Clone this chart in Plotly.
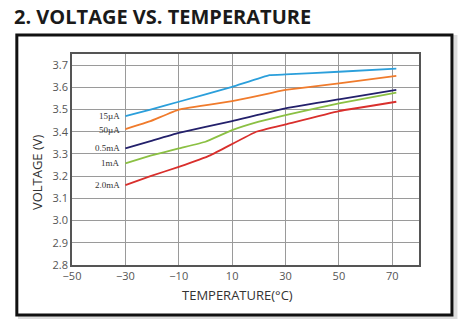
import plotly.graph_objects as go

temps = [-30, -20.6, -10, 10, 24, 30, 50, 71.5]
v_15uA = [3.47, 3.50, 3.535, 3.602, 3.655, 3.658, 3.67, 3.684]
temps_50 = [-30, -20.6, -10, 10, 24, 30, 50, 71.5]
v_50uA = [3.412, 3.448, 3.50, 3.538, 3.573, 3.588, 3.618, 3.652]
temps_05 = [-30, -20.6, -10, 10, 30, 50, 71.5]
v_05mA = [3.325, 3.358, 3.395, 3.448, 3.505, 3.546, 3.588]
temps_1 = [-30, -20.6, -10, 0, 10, 20, 30, 50, 71.5]
v_1mA = [3.258, 3.292, 3.325, 3.355, 3.407, 3.445, 3.475, 3.528, 3.576]
temps_2 = [-30, -20.6, -10, 2, 19, 30, 50, 71.5]
v_2mA = [3.16, 3.20, 3.242, 3.295, 3.40, 3.433, 3.493, 3.535]

series = [
    ("15µA", temps, v_15uA, "#2b9fdb"),
    ("50µA", temps_50, v_50uA, "#f07b2c"),
    ("0.5mA", temps_05, v_05mA, "#23206b"),
    ("1mA", temps_1, v_1mA, "#8bc043"),
    ("2.0mA", temps_2, v_2mA, "#d92f2c"),
]
label_offsets = [0, -0.005, 0, 0, 0]

x_ticks = [-50, -30, -10, 10, 30, 50, 70]
y_ticks = [2.8, 2.9, 3.0, 3.1, 3.2, 3.3, 3.4, 3.5, 3.6, 3.7]

fig = go.Figure()
for (name, xs, ys, col) in series:
    fig.add_trace(go.Scatter(x=xs, y=ys, mode="lines", name=name,
                             line=dict(color=col, width=1.8, shape="spline", smoothing=0.3),
                             showlegend=False))

anns = []
for (name, xs, ys, col), off in zip(series, label_offsets):
    anns.append(dict(x=xs[0] - 1.2, y=ys[0] + off, xref="x", yref="y", text=name,
                     showarrow=False, xanchor="right", yanchor="middle",
                     font=dict(family="Liberation Serif", size=9, color="#333")))

anns.append(dict(x=-0.101, y=0.44, xref="paper", yref="paper", text="VOLTAGE (V)",
                 textangle=-90, showarrow=False, xanchor="center", yanchor="middle",
                 font=dict(family="Open Sans", size=13, color="#333")))
anns.append(dict(x=0.478, y=-0.142, xref="paper", yref="paper", text="TEMPERATURE(°C)",
                 showarrow=False, xanchor="center", yanchor="middle",
                 font=dict(family="Open Sans", size=13, color="#333")))
anns.append(dict(x=-0.172, y=1.18, xref="paper", yref="paper",
                 text="<b>2. VOLTAGE VS. TEMPERATURE</b>",
                 showarrow=False, xanchor="left", yanchor="middle",
                 font=dict(family="Open Sans", size=20, color="#1a1a1a")))

shapes = [
    dict(type="rect", xref="paper", yref="paper", x0=-0.150, x1=1.105, y0=-0.247, y1=1.080,
         line=dict(color="#dddddd", width=4), layer="below"),
    dict(type="rect", xref="paper", yref="paper", x0=-0.159, x1=1.095, y0=-0.237, y1=1.090,
         line=dict(color="#111111", width=3), fillcolor="white", layer="below"),
]

fig.update_layout(
    width=474, height=334,
    margin=dict(l=72, r=55, t=54, b=69),
    paper_bgcolor="white", plot_bgcolor="white",
    annotations=anns, shapes=shapes,
    xaxis=dict(range=[-50, 80], tickvals=x_ticks, showgrid=True, gridcolor="#9a9a9a",
               gridwidth=1, showline=True, linecolor="#555", linewidth=1.5, mirror=True,
               zeroline=False, ticks="", ticklen=0,
               tickfont=dict(family="Open Sans", size=11, color="#555")),
    yaxis=dict(range=[2.8, 3.75], tickvals=y_ticks, tickformat=".1f", showgrid=True,
               gridcolor="#9a9a9a", gridwidth=1, showline=True, linecolor="#555",
               linewidth=1.5, mirror=True, zeroline=False, ticks="",
               tickfont=dict(family="Open Sans", size=11, color="#555")),
)

fig.write_html("out.html")
